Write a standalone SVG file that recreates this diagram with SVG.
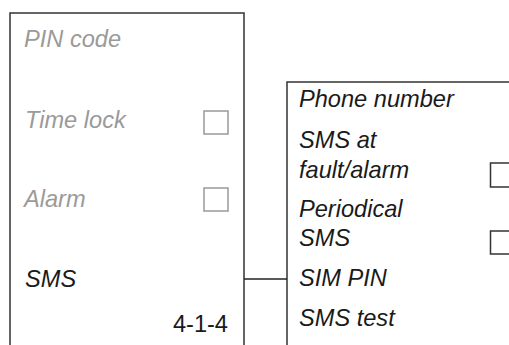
<svg xmlns="http://www.w3.org/2000/svg" width="509" height="345" viewBox="0 0 509 345">
<style>
.t{font-family:"Liberation Sans",Arial,sans-serif;font-size:23.6px;font-style:italic}
.g{fill:#9a9a9a}
.k{fill:#1a1a1a}
.box{fill:#ffffff;stroke:#333333;stroke-width:1.5}
.cbg{fill:#ffffff;stroke:#999999;stroke-width:1.5}
.cbk{fill:#ffffff;stroke:#333333;stroke-width:1.5}
.c{stroke:#222222;stroke-width:1.5;fill:none}
</style>
<rect width="509" height="345" fill="#ffffff"/>
<g id="menu-left">
<path class="box" d="M10,350 V13 H244 V350"/>
<text class="t g" x="24" y="47">PIN code</text>
<text class="t g" x="25" y="128">Time lock</text>
<rect class="cbg" x="204" y="111" width="24" height="23"/>
<text class="t g" x="24" y="207">Alarm</text>
<rect class="cbg" x="204" y="188" width="24" height="23"/>
<text class="t k" x="25" y="287">SMS</text>
<text class="k" x="228" y="332" text-anchor="end" font-family="Liberation Sans,Arial,sans-serif" font-size="23.6">4-1-4</text>
</g>
<g id="menu-right">
<path class="box" d="M287,350 V82 H515"/>
<text class="t k" x="299" y="107">Phone number</text>
<text class="t k" x="299" y="148">SMS at</text>
<text class="t k" x="299" y="178">fault/alarm</text>
<rect class="cbk" x="490.5" y="163" width="24" height="24"/>
<text class="t k" x="299" y="217">Periodical</text>
<text class="t k" x="299" y="246">SMS</text>
<rect class="cbk" x="490.5" y="231" width="24" height="23"/>
<text class="t k" x="299" y="286">SIM PIN</text>
<text class="t k" x="299" y="326">SMS test</text>
</g>
<g id="connectors">
<line class="c" x1="244" y1="279" x2="287" y2="279"/>
</g>
</svg>
